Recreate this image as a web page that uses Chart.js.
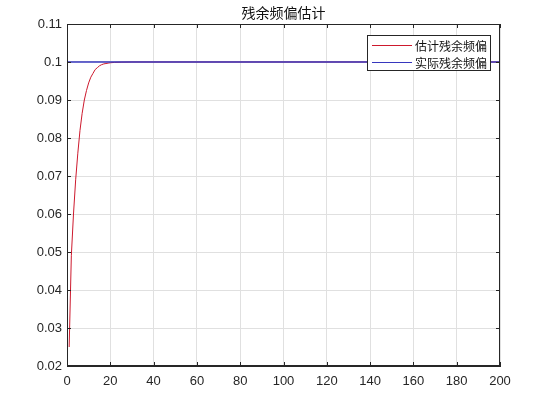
<!DOCTYPE html>
<html>
<head>
<meta charset="utf-8">
<script src="https://cdn.jsdelivr.net/npm/chart.js@4/dist/chart.umd.min.js"></script>
<style>
  html, body { margin: 0; padding: 0; background: #fff; }
</style>
</head>
<body>
<canvas id="chart" width="545" height="397"></canvas>
<script>
var titleText = '残余频偏估计';
var labels = ['估计残余频偏', '实际残余频偏'];

// estimated offset
var estX = [1, 2, 3, 4, 5, 6, 7, 8, 9, 10, 11, 12, 13, 14, 15, 16, 17, 18, 19, 20, 22, 25, 30, 40, 60, 80, 100, 120, 140, 160, 180, 200];
var estY = [0.025, 0.049, 0.060, 0.069, 0.076, 0.082, 0.0865, 0.090, 0.0925, 0.0945, 0.096, 0.097, 0.098, 0.0985, 0.099, 0.0993, 0.0995, 0.0996, 0.0997, 0.0998, 0.0999, 0.09995, 0.1, 0.1, 0.1, 0.1, 0.1, 0.1, 0.1, 0.1, 0.1, 0.1];

// actual offset
var trueX = [0, 200];
var trueY = [0.1, 0.1];

var xMin = 0, xMax = 200, xStep = 20;
var yMin = 0.02, yMax = 0.11, yStep = 0.01;

function pts(xs, ys) {
    return xs.map(function (x, i) { return { x: x, y: ys[i] }; });
}

var colors = ['rgb(205,25,45)', 'rgb(55,55,190)'];
var axisColor = '#262626';
var cjk = '"Noto Sans CJK SC", "Noto Sans", sans-serif';

var matlabLook = {
    id: 'matlabLook',
    afterDraw: function (chart) {
        var ctx = chart.ctx;
        var a = chart.chartArea;
        var xs = chart.scales.x, ys = chart.scales.y;
        ctx.save();
        ctx.strokeStyle = axisColor;
        ctx.lineWidth = 1;
        ctx.strokeRect(Math.round(a.left) + 0.5, Math.round(a.top) + 0.5,
            Math.round(a.right - a.left) - 1, Math.round(a.bottom - a.top) - 1);

        // inward tick marks
        ctx.beginPath();
        xs.ticks.forEach(function (t) {
            var px = Math.round(xs.getPixelForValue(t.value)) + 0.5;
            ctx.moveTo(px, a.bottom); ctx.lineTo(px, a.bottom - 4);
            ctx.moveTo(px, a.top); ctx.lineTo(px, a.top + 4);
        });
        ys.ticks.forEach(function (t) {
            var py = Math.round(ys.getPixelForValue(t.value)) + 0.5;
            ctx.moveTo(a.left, py); ctx.lineTo(a.left + 4, py);
            ctx.moveTo(a.right, py); ctx.lineTo(a.right - 4, py);
        });
        ctx.stroke();

        // title
        ctx.fillStyle = '#111';
        ctx.font = '14px ' + cjk;
        ctx.textAlign = 'center';
        ctx.textBaseline = 'middle';
        ctx.fillText(titleText, (a.left + a.right) / 2, 13);

        // legend box
        var bw = 123, bh = 35;
        var bx = Math.round(a.right) - 10 - bw, by = Math.round(a.top) + 11;
        ctx.fillStyle = '#fff';
        ctx.fillRect(bx, by, bw, bh);
        ctx.strokeStyle = axisColor;
        ctx.strokeRect(bx + 0.5, by + 0.5, bw, bh);
        ctx.font = '12px ' + cjk;
        ctx.textAlign = 'left';
        labels.forEach(function (lab, i) {
            var ly = by + 10 + i * 17;
            ctx.strokeStyle = colors[i];
            ctx.beginPath();
            ctx.moveTo(bx + 5, ly + 0.5); ctx.lineTo(bx + 45, ly + 0.5);
            ctx.stroke();
            ctx.fillStyle = '#111';
            ctx.fillText(lab, bx + 48, ly + 1);
        });
        ctx.restore();
    }
};

new Chart(document.getElementById('chart').getContext('2d'), {
    type: 'line',
    data: {
        datasets: [
            { label: labels[0], data: pts(estX, estY), borderColor: colors[0], borderWidth: 1, pointRadius: 0, tension: 0, fill: false, order: 1 },
            { label: labels[1], data: pts(trueX, trueY), borderColor: colors[1], borderWidth: 1.5, pointRadius: 0, tension: 0, fill: false, order: 0 }
        ]
    },
    options: {
        responsive: false,
        animation: false,
        layout: { padding: { top: 24, right: 45, left: 0, bottom: 0 } },
        plugins: { legend: { display: false }, title: { display: false }, tooltip: { enabled: false } },
        scales: {
            x: {
                type: 'linear', min: xMin, max: xMax,
                afterFit: function (s) { s.height = 31; },
                ticks: { stepSize: xStep, padding: 8, color: axisColor, font: { family: 'Liberation Sans', size: 13 } },
                grid: { color: '#e0e0e0', drawTicks: false },
                border: { color: axisColor }
            },
            y: {
                min: yMin, max: yMax,
                afterFit: function (s) { s.width = 67; },
                ticks: {
                    stepSize: yStep, padding: 5, color: axisColor,
                    font: { family: 'Liberation Sans', size: 13 },
                    callback: function (v) { return String(+v.toFixed(2)); }
                },
                grid: { color: '#e0e0e0', drawTicks: false },
                border: { color: axisColor }
            }
        }
    },
    plugins: [matlabLook]
});
</script>
</body>
</html>
